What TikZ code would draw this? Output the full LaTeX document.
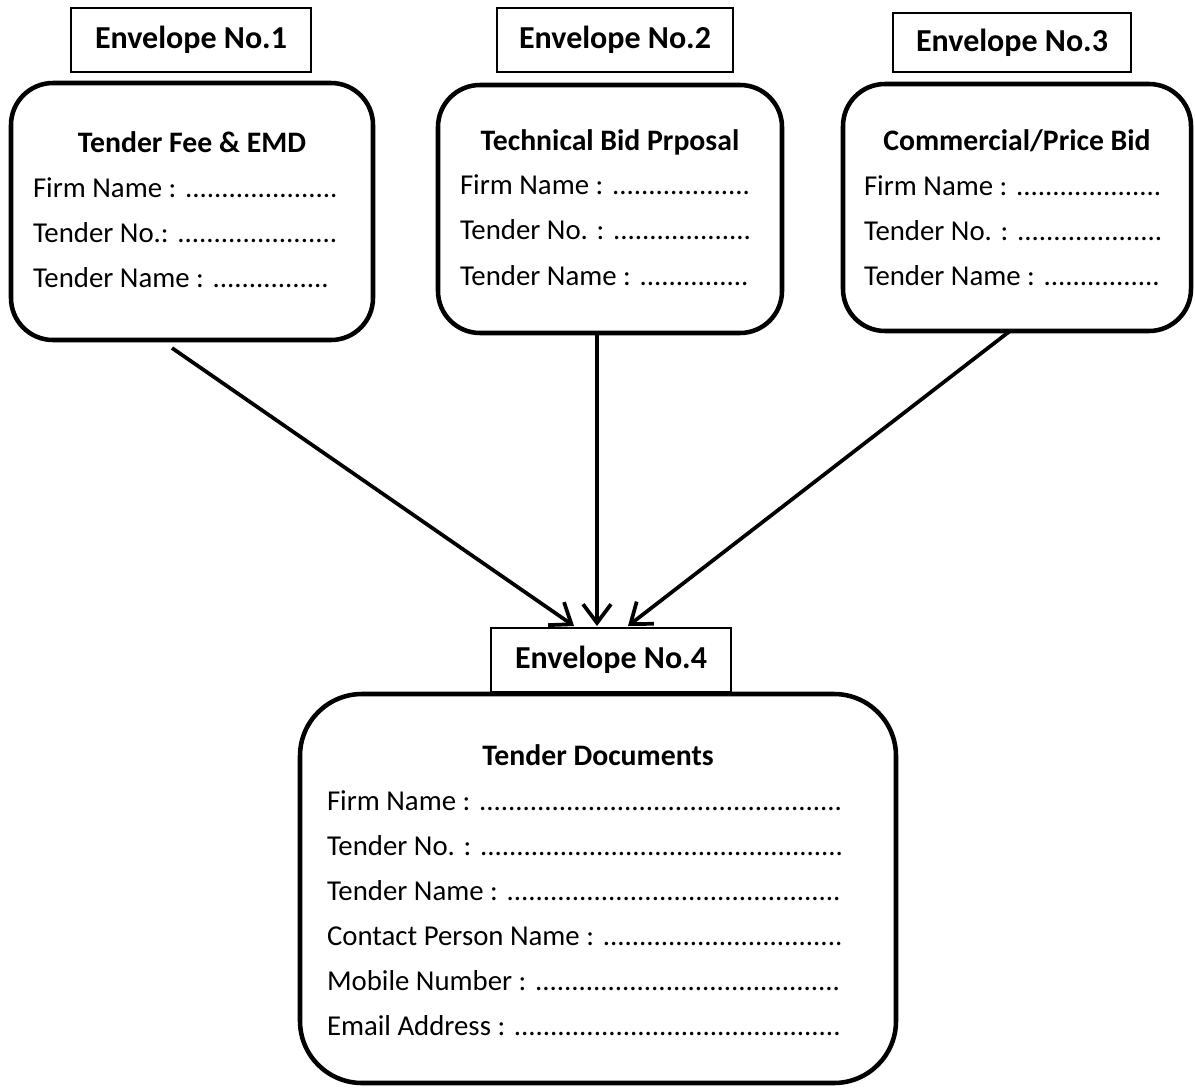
\documentclass[tikz,border=0pt]{standalone}
\usepackage{fontspec}
\setmainfont{Carlito}
\usetikzlibrary{arrows.meta,calc}
\newcommand{\bodyfnt}{\fontsize{21.6}{26}\selectfont}
\newcommand{\ttlfnt}{\fontsize{22.3}{27}\selectfont\bfseries}
\newcommand{\lblfnt}{\fontsize{24}{29}\selectfont\bfseries}
\begin{document}
\begin{tikzpicture}[x=0.75pt,y=-0.75pt,
  rbox/.style={draw, line width=3.4pt, rounded corners=31.5pt, inner sep=0pt, outer sep=0pt},
  lbox/.style={draw, line width=1.1pt, inner sep=0pt, outer sep=0pt, font=\lblfnt},
  txt/.style={inner sep=0pt, outer sep=0pt, anchor=base west, font=\bodyfnt},
  ttl/.style={inner sep=0pt, outer sep=0pt, anchor=base, font=\ttlfnt},
  arr/.style={line width=2.8pt, -{Straight Barb[length=14pt,width=21pt]}}]
\useasboundingbox (0,0) rectangle (1195,1088);
% label boxes
\node[lbox, minimum width=180pt, minimum height=48pt] (l1) at (191,40) {Envelope No.1};
\node[lbox, minimum width=177pt, minimum height=48pt] (l2) at (615,40) {Envelope No.2};
\node[lbox, minimum width=178.5pt, minimum height=44.25pt] (l3) at (1012,42.5) {Envelope No.3};
\node[lbox, minimum width=180pt, minimum height=48pt] (l4) at (611,660) {Envelope No.4};
% rounded boxes
\node[rbox, minimum width=271.5pt, minimum height=192.75pt] (b1) at (192,211.5) {};
\node[rbox, minimum width=258pt, minimum height=186pt] (b2) at (610,209) {};
\node[rbox, minimum width=261pt, minimum height=185.25pt] (b3) at (1017,207.5) {};
\node[rbox, rounded corners=46.5pt, minimum width=447pt, minimum height=291.75pt] (b4) at (598,888.5) {};
% box 1 text
\node[ttl] (t1) at (192,152) {Tender Fee \& EMD};
\node[txt] (t1a) at (33,197) {Firm Name : .....................};
\node[txt] (t1b) at (33,242) {Tender No.: ......................};
\node[txt] (t1c) at (33,287) {Tender Name : ................};
% box 2 text
\node[ttl] (t2) at (610,150) {Technical Bid Prposal};
\node[txt] (t2a) at (460,194) {Firm Name : ...................};
\node[txt] (t2b) at (460,239) {Tender No. : ...................};
\node[txt] (t2c) at (460,285) {Tender Name : ...............};
% box 3 text
\node[ttl] (t3) at (1017,150) {Commercial/Price Bid};
\node[txt] (t3a) at (864,195) {Firm Name : ....................};
\node[txt] (t3b) at (864,240) {Tender No. : ....................};
\node[txt] (t3c) at (864,285) {Tender Name : ................};
% box 4 text
\node[ttl] (t4) at (598,765) {Tender Documents};
\node[txt] (t4a) at (327,810) {Firm Name : ..................................................};
\node[txt] (t4b) at (327,855) {Tender No. : ..................................................};
\node[txt] (t4c) at (327,900) {Tender Name : ..............................................};
\node[txt] (t4d) at (327,945) {Contact Person Name : .................................};
\node[txt] (t4e) at (327,990) {Mobile Number : ..........................................};
\node[txt] (t4f) at (327,1035) {Email Address : .............................................};
% arrows
\coordinate (s1) at (172,348);
\draw[arr] (s1) -- ($(l4.north)+(-37,-2)$);
\draw[arr] ($(b2.south)+(-13,0)$) -- ($(l4.north)+(-14,-2)$);
\draw[arr] ($(b3.south)+(-7,0)$) -- ($(l4.north)+(17,-2)$);
\end{tikzpicture}
\end{document}
